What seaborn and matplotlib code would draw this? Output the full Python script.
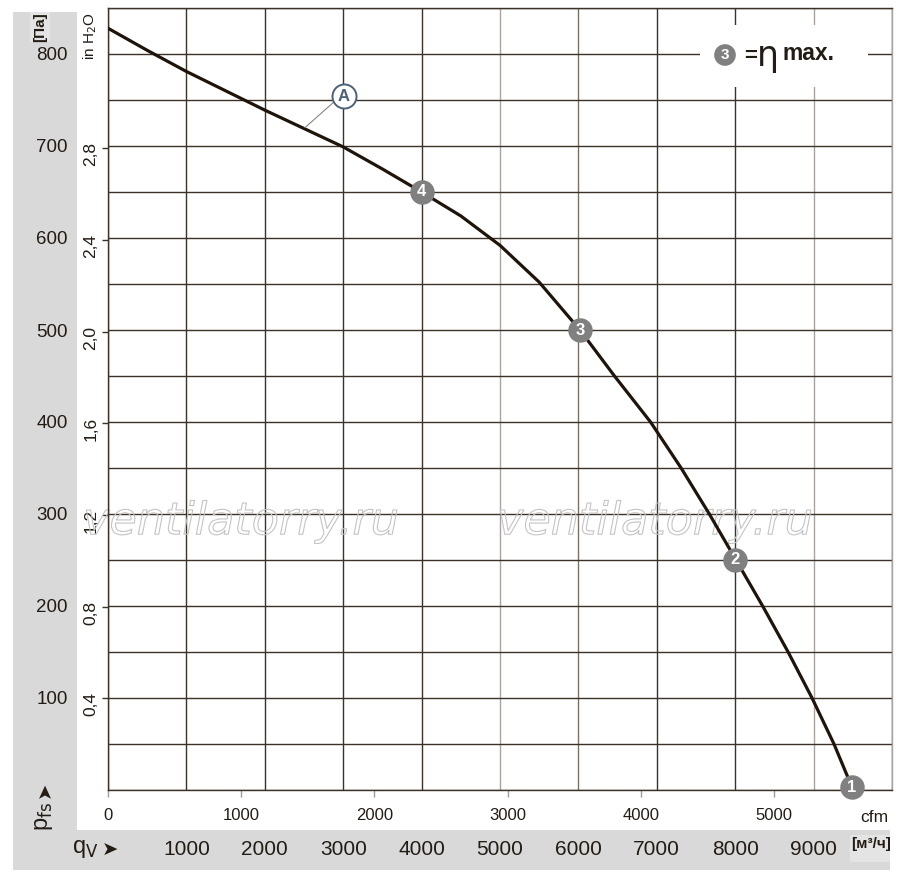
import numpy as np
import pandas as pd
import seaborn as sns
import matplotlib.pyplot as plt
import matplotlib.patheffects as pe
from matplotlib.patches import Rectangle

# кривая вентилятора (м³/ч, Па)
flow_m3h = [0, 500, 1000, 1500, 2000, 2500, 3000, 3500, 4000, 4500,
            5000, 5500, 6020, 6460, 6920, 7310, 7670, 8010, 8350, 8675,
            8980, 9260, 9490]
pressure_pa = [828, 804, 781, 760, 739, 719, 699, 675, 650, 624,
               592, 552, 500, 450, 400, 350, 300, 250, 200, 150,
               100, 50, 3]

# рабочие точки 1..4
point_ids = ['1', '2', '3', '4']
point_flow = [9490, 8000, 6020, 4000]
point_pa = [3, 250, 500, 650]

# выноска "A"
a_flow = 3010
a_pa = 754
a_leader_flow = [2513, 2870]
a_leader_pa = [720, 747]

m3h_labels = [1000, 2000, 3000, 4000, 5000, 6000, 7000, 8000, 9000]
cfm_labels = [0, 1000, 2000, 3000, 4000, 5000]
pa_labels = [100, 200, 300, 400, 500, 600, 700, 800]
inh2o_labels = [0.4, 0.8, 1.2, 1.6, 2.0, 2.4, 2.8]

M3H_PER_CFM = 1.699
PA_PER_INH2O = 249.09

GRID = '#3d3228'
GRID_LIGHT = '#aaa49e'
GRID_MID = '#7a7168'
TEXT = '#231c15'
CURVE = '#1e140a'
BAND = '#d9d9d9'
MARK = '#808080'
BLUE = '#4c6178'

sns.set_style('white')
plt.rcParams['font.family'] = ['Liberation Sans Narrow', 'Liberation Sans', 'DejaVu Sans']

W, H = 900, 881
fig = plt.figure(figsize=(W / 100, H / 100), dpi=100)


def fx(px):
    return px / W


def fy(py):
    return 1 - py / H


# серые полосы под подписи
fig.add_artist(Rectangle((fx(13), fy(870)), fx(64), 858 / H, transform=fig.transFigure,
                         color=BAND, zorder=-2, lw=0))
fig.add_artist(Rectangle((fx(13), fy(870)), fx(877), 40 / H, transform=fig.transFigure,
                         color=BAND, zorder=-2, lw=0))
fig.add_artist(Rectangle((fx(30), fy(42)), fx(20), 30 / H, transform=fig.transFigure,
                         color='#e4e4e4', zorder=-1, lw=0))
fig.add_artist(Rectangle((fx(850), fy(862)), fx(40), 27 / H, transform=fig.transFigure,
                         color='#e4e4e4', zorder=-1, lw=0))

ax = fig.add_axes([fx(108), fy(790), fx(784), 782 / H])
ax.set_xlim(0, 10000)
ax.set_ylim(0, 850)
ax.set_xticks(np.arange(0, 10001, 1000))
ax.set_yticks(np.arange(0, 851, 50))
ax.set_yticklabels([str(v) if v in pa_labels else '' for v in ax.get_yticks().astype(int)])
ax.tick_params(axis='x', length=0, labelbottom=False)
ax.tick_params(axis='y', length=0, pad=29, labelsize=13.5, labelcolor=TEXT)
ax.grid(True, color=GRID, lw=1)
ax.set_axisbelow(True)
for s in ax.spines.values():
    s.set_color(GRID)
    s.set_linewidth(1)
ax.spines['right'].set_color(GRID_LIGHT)
# часть вертикальных линий сетки на оригинале светлее
for tick, gl in zip(ax.get_xticks(), ax.get_xgridlines()):
    if tick in (5000, 9000):
        gl.set_color(GRID_LIGHT)
    elif tick == 6000:
        gl.set_color(GRID_MID)

# водяной знак
for cx in [1700, 6980]:
    ax.text(cx, 278, 'ventilatorry.ru', ha='center', va='baseline', fontsize=32,
            style='italic', family=['DejaVu Sans'], color='none',
            path_effects=[pe.Stroke(linewidth=0.8, foreground='#c4c4c4')], zorder=1)

sns.lineplot(x=flow_m3h, y=pressure_pa, sort=False, color=CURVE, lw=2.3, ax=ax, zorder=3)
ax.lines[-1].set_solid_joinstyle('round')

ax.scatter(point_flow, point_pa, s=310, color=MARK, lw=0, zorder=4, clip_on=False)
for pid, qx, py in zip(point_ids, point_flow, point_pa):
    ax.text(qx, py, pid, ha='center', va='center', color='white', fontsize=12,
            fontweight='bold', zorder=5, clip_on=False)

ax.plot(a_leader_flow, a_leader_pa, color='#8a8580', lw=0.8, zorder=3)
ax.scatter([a_flow], [a_pa], s=300, facecolor='white', edgecolor=BLUE, lw=1.4, zorder=4)
ax.text(a_flow, a_pa, 'A', ha='center', va='center', color=BLUE, fontsize=12,
        fontweight='bold', zorder=5)

# легенда η max
ax.add_patch(Rectangle((fx(700), fy(87)), fx(168), 62 / H, transform=fig.transFigure,
                       color='white', lw=0, zorder=2.5))
fig.text(fx(725), fy(55), '3', ha='center', va='center', color='white', fontsize=11,
         fontweight='bold', zorder=6,
         bbox=dict(boxstyle='circle,pad=0.25', fc=MARK, ec='none'))
fig.text(fx(744), fy(56), '=', ha='left', va='center', color=TEXT, fontsize=16,
         fontweight='bold', zorder=6)
fig.text(fx(757), fy(56), 'η', ha='left', va='center', color=TEXT, fontsize=25,
         family=['DejaVu Sans'], zorder=6)
fig.text(fx(783), fy(60), 'max.', ha='left', va='baseline', color=TEXT, fontsize=16.5,
         fontweight='bold', zorder=6)

# шкала in H2O
sec_y = ax.secondary_yaxis('left', functions=(lambda p: p / PA_PER_INH2O,
                                              lambda h: h * PA_PER_INH2O))
sec_y.set_yticks(inh2o_labels, labels=[f'{v:.1f}'.replace('.', ',') for v in inh2o_labels])
sec_y.tick_params(length=4.5, width=1, color=GRID, pad=2.5, labelsize=12.5,
                  labelcolor=TEXT, labelrotation=90)
sec_y.spines['left'].set_visible(False)

# шкала cfm
sec_x = ax.secondary_xaxis('bottom', functions=(lambda q: q / M3H_PER_CFM,
                                                lambda c: c * M3H_PER_CFM))
sec_x.set_xticks(cfm_labels)
sec_x.tick_params(length=5, width=1, color='#a39d96', pad=8, labelsize=12, labelcolor=TEXT)
sec_x.spines['bottom'].set_visible(False)

# шкала м³/ч в нижней полосе
for v in m3h_labels:
    ax.text(v, -0.0767, str(v), transform=ax.get_xaxis_transform(), ha='center',
            va='center', fontsize=15, color=TEXT)

fig.text(fx(888), fy(818), 'cfm', ha='right', va='center', fontsize=12.5, color=TEXT)
fig.text(fx(871), fy(844), '[м³/ч]', ha='center', va='center', fontsize=11,
         fontweight='bold', color=TEXT)
fig.text(fx(90), fy(36), 'in H$_2$O', ha='center', va='center', rotation=90,
         fontsize=11, color=TEXT)
fig.text(fx(40), fy(27), '[Па]', ha='center', va='center', rotation=90,
         fontsize=11, fontweight='bold', color=TEXT)
fig.text(fx(44), fy(816), 'p$_{\\rm fs}$', ha='center', va='center', rotation=90,
         fontsize=17, color=TEXT)
fig.text(fx(45), fy(790), '➤', ha='center', va='center', rotation=90,
         fontsize=14, family=['DejaVu Sans'], color=TEXT)
fig.text(fx(85), fy(849), 'q$_{\\rm V}$', ha='center', va='center',
         fontsize=17, color=TEXT)
fig.text(fx(110), fy(850), '➤', ha='center', va='center',
         fontsize=14, family=['DejaVu Sans'], color=TEXT)

fig.savefig('out.png', dpi=100)
